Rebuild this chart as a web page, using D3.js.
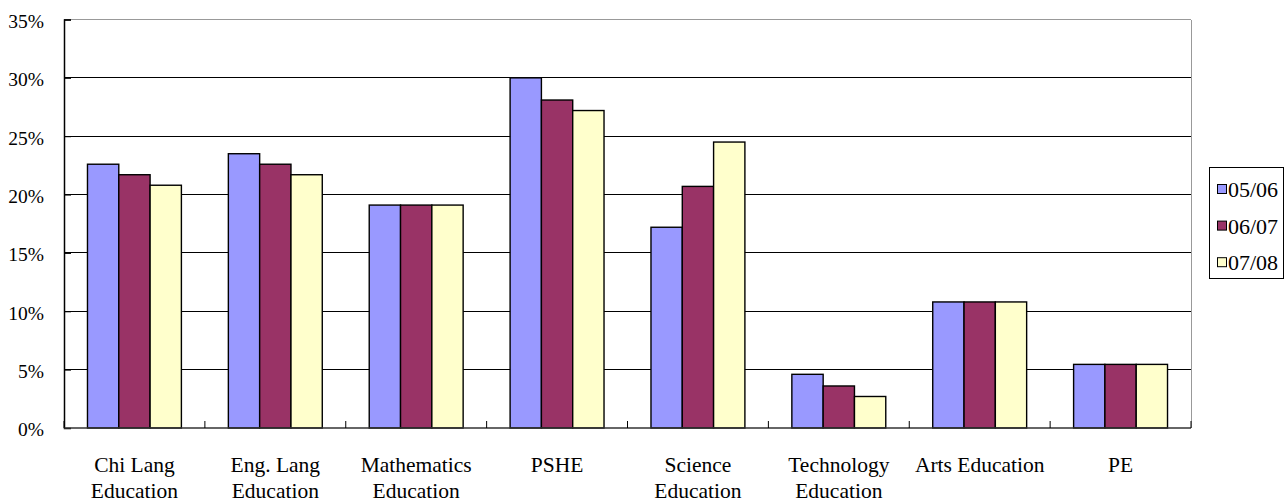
<!DOCTYPE html>
<html><head><meta charset="utf-8">
<script src="https://cdn.jsdelivr.net/npm/d3@7"></script>
<style>body{margin:0;background:#fff}svg{display:block}</style>
</head><body><svg id="c" width="1285" height="502"></svg>
<script>
const categories = [["Chi Lang","Education"],["Eng. Lang","Education"],["Mathematics","Education"],["PSHE"],["Science","Education"],["Technology","Education"],["Arts Education"],["PE"]];
const seriesNames = ["05/06","06/07","07/08"];
const s0506 = [22.6, 23.5, 19.1, 30.0, 17.2, 4.6, 10.8, 5.45];
const s0607 = [21.7, 22.6, 19.1, 28.1, 20.7, 3.6, 10.8, 5.45];
const s0708 = [20.8, 21.7, 19.1, 27.2, 24.5, 2.7, 10.8, 5.45];
const yTicks = [0,5,10,15,20,25,30,35];
const colors = ["#9999FF","#993366","#FFFFCC"];
const FONT = "Liberation Serif";

const svg = d3.select("#c");
const L=64, R=1191, T=19.5, B=428;
const series=[s0506,s0607,s0708];
const x0 = d3.scaleBand().domain(d3.range(categories.length)).range([L,R]).paddingInner(0).paddingOuter(0);
const bw = x0.bandwidth()/4.5;
const y = d3.scaleLinear().domain([0,35]).range([B,T]);

// gridlines
svg.append("g").selectAll("line").data(yTicks.filter(d=>d>0)).join("line")
  .attr("x1",L).attr("x2",R).attr("y1",d=>y(d)).attr("y2",d=>y(d))
  .attr("stroke",d=>d===35?"#999":"#000").attr("stroke-width",1).attr("shape-rendering","crispEdges");
// right border
svg.append("line").attr("x1",R).attr("x2",R).attr("y1",T).attr("y2",B).attr("stroke","#999").attr("shape-rendering","crispEdges");

// bars
const g = svg.append("g");
series.forEach((s,si)=>{
  g.selectAll(null).data(s).join("rect")
    .attr("x",(d,i)=>x0(i)+bw*0.75+si*bw)
    .attr("y",d=>y(d)).attr("width",bw).attr("height",d=>B-y(d))
    .attr("fill",colors[si]).attr("stroke","#000").attr("stroke-width",1.4);
});

// y axis
const ya = svg.append("g").attr("transform",`translate(${L},0)`)
  .call(d3.axisLeft(y).tickValues(yTicks).tickSize(-7).tickPadding(0).tickFormat(d=>d+"%"));
ya.attr("font-family",null).attr("font-size",null);
ya.select(".domain").attr("stroke","#000").attr("stroke-width",1.5);
ya.selectAll(".tick line").attr("stroke","#000");
ya.selectAll(".tick text").attr("x",-20).attr("dy","0.4em").attr("fill","#000")
  .attr("font-family",FONT).attr("font-size",19.5);

// x axis
const xa = svg.append("g").attr("transform",`translate(0,${B})`);
xa.append("line").attr("x1",L).attr("x2",R).attr("y1",0).attr("y2",0).attr("stroke","#333").attr("stroke-width",1.5);
xa.selectAll("line.tk").data(d3.range(categories.length+1)).join("line").attr("class","tk")
  .attr("x1",i=>L+i*x0.bandwidth()).attr("x2",i=>L+i*x0.bandwidth()).attr("y1",-7).attr("y2",0).attr("stroke","#000");
const lbl = xa.selectAll("text.cat").data(categories).join("text").attr("class","cat")
  .attr("text-anchor","middle").attr("x",(d,i)=>x0(i)+x0.bandwidth()/2).attr("y",44)
  .attr("font-family",FONT).attr("font-size",21.5);
lbl.selectAll("tspan").data(d=>d).join("tspan")
  .attr("x",function(){return this.parentNode.getAttribute("x");})
  .attr("dy",(d,i)=>i===0?0:25.5).text(d=>d);

// legend
const lg = svg.append("g");
lg.append("rect").attr("x",1209.5).attr("y",167.5).attr("width",74).attr("height",111).attr("fill","#fff").attr("stroke","#000");
seriesNames.forEach((n,i)=>{
  const cy = 189 + i*36.6;
  lg.append("rect").attr("x",1217.5).attr("y",cy-4.5).attr("width",9).attr("height",9).attr("fill",colors[i]).attr("stroke","#000");
  lg.append("text").attr("x",1228).attr("y",cy).attr("dy","0.36em").attr("font-family",FONT).attr("font-size",22).text(n);
});
</script></body></html>
